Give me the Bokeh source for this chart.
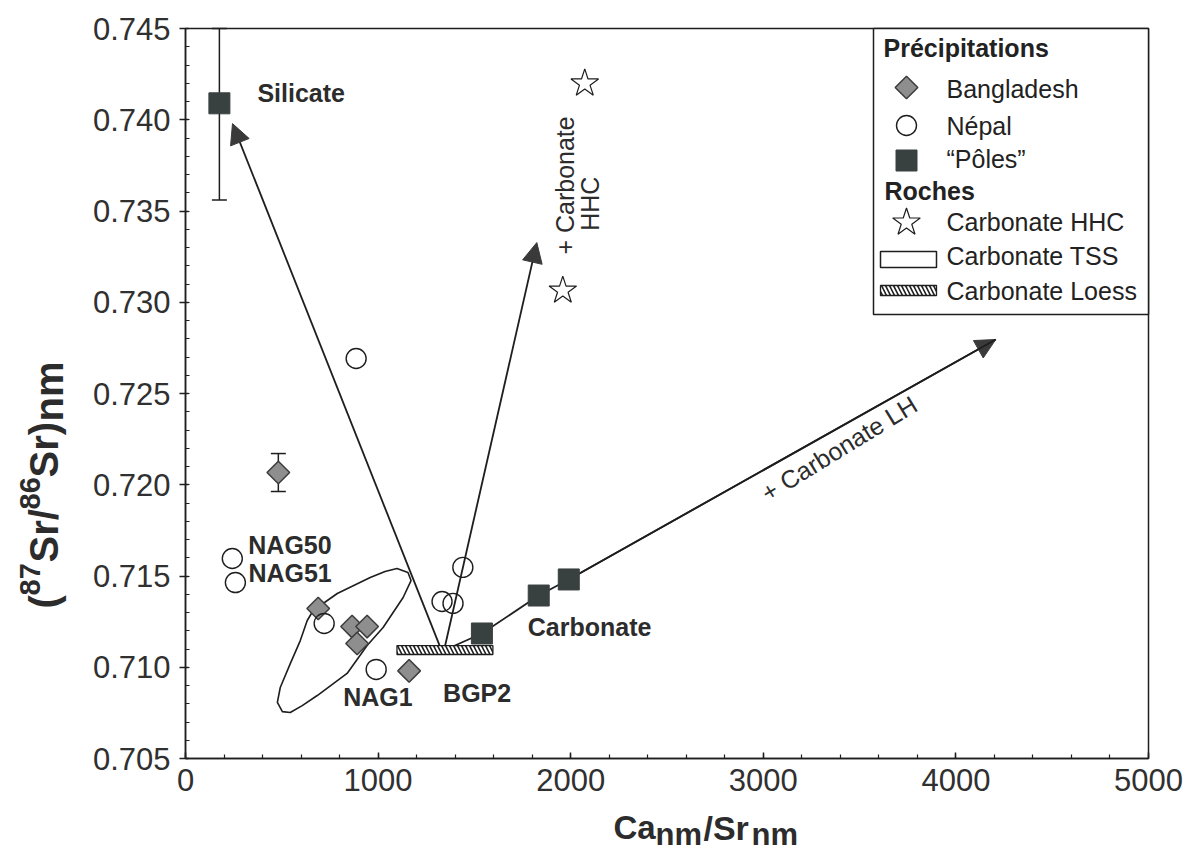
import numpy as np
from bokeh.plotting import figure
from bokeh.models import (Range1d, FixedTicker, PrintfTickFormatter,
                          Arrow, NormalHead, TeeHead, Whisker, ColumnDataSource)
from bokeh.core.properties import value
from bokeh.embed import file_html
from bokeh.resources import INLINE

# ---------------- data ----------------
# Precipitation - Bangladesh (grey diamonds)
bgd_x = [482, 689, 865, 943, 891, 1161]
bgd_y = [0.72067, 0.71322, 0.71223, 0.71223, 0.71130, 0.70980]
# Precipitation - Nepal (open circles)
nep_x = [243, 259, 720, 886, 990, 1332, 1389, 1440]
nep_y = [0.71596, 0.71464, 0.71240, 0.72692, 0.70988, 0.71360, 0.71350, 0.71547]
# End-members "Poles" (filled squares)
pole_x = [176, 1539, 1834, 1990]
pole_y = [0.74090, 0.71185, 0.71393, 0.71481]
# Rocks - Carbonate HHC (stars)
hhc_x = [2073, 1959]
hhc_y = [0.74199, 0.73064]
# Rocks - Carbonate TSS field (outline)
tss_x = [1098, 1155, 1171, 1130, 1026, 943, 839, 684, 606, 544, 503, 477, 492, 544,
         596, 632, 663, 788, 959, 1036]
tss_y = [0.71541, 0.71519, 0.71475, 0.71382, 0.71218, 0.71119, 0.70966, 0.70845, 0.70790,
         0.70752, 0.70757, 0.70807, 0.70889, 0.71020, 0.71146, 0.71256, 0.71311, 0.71404,
         0.71492, 0.71525]
# Rocks - Carbonate Loess (box)
loess_x = [1098, 1596]
loess_y = [0.71070, 0.71119]
# error bars
err_x = [176, 482]
err_lo = [0.7356, 0.71963]
err_hi = [0.7450, 0.72171]
# mixing arrows (to Silicate, to Carbonate HHC)
mix_x0 = [1321, 1347]
mix_y0 = [0.71114, 0.71114]
mix_x1 = [244, 1824]
mix_y1 = [0.73979, 0.73327]
# mixing line towards Carbonate LH
lh_x = [1399, 1539, 1834, 1990, 4207]
lh_y = [0.71119, 0.71185, 0.71393, 0.71481, 0.72796]

# point labels
pt_text = ["Silicate", "NAG50", "NAG51", "NAG1", "BGP2", "Carbonate"]
pt_x = [176, 243, 259, 990, 1161, 1834]
pt_y = [0.74090, 0.71596, 0.71464, 0.70988, 0.70980, 0.71393]

# axes
x_ticks = [0, 1000, 2000, 3000, 4000, 5000]
y_ticks = [0.705, 0.710, 0.715, 0.720, 0.725, 0.730, 0.735, 0.740, 0.745]

# axis titles, as (text, font size, role) pieces
xt_pieces = [("Ca", "33px", "main"), ("nm", "31px", "sub"), ("/Sr", "34px", "main"), ("nm", "31px", "sub")]
yt_pieces = [("(", "40px", "main"), ("87", "29px", "sup"), ("Sr/", "40px", "main"),
             ("86", "29px", "sup"), ("Sr)", "40px", "main"), ("nm", "40px", "sub")]

# ---------------- layout / style ----------------
W, H = 1186, 852
PL, PR, PT, PB = 185, 1148, 28, 758      # data box in page pixels
XMIN, XMAX, YMIN, YMAX = 0, 5000, 0.705, 0.745
INK = "#1e1e1e"
TXT = "#2c2c2c"
FONT = value("Liberation Sans")


def gx(px):
    return XMIN + (px - PL) / (PR - PL) * (XMAX - XMIN)


def gy(py):
    return YMAX - (py - PT) / (PB - PT) * (YMAX - YMIN)


p = figure(width=W, height=H, x_range=Range1d(gx(0), gx(W)), y_range=Range1d(gy(H), gy(0)),
           output_backend="svg", toolbar_location=None, title=None, min_border=0,
           min_border_left=0, min_border_right=0, min_border_top=0, min_border_bottom=0)
p.background_fill_color = "white"
p.border_fill_color = "white"
p.outline_line_color = None
p.xgrid.visible = False
p.ygrid.visible = False

xa, ya = p.xaxis[0], p.yaxis[0]
xa.fixed_location = YMIN
ya.fixed_location = XMIN
xa.bounds = (XMIN, XMAX)
ya.bounds = (YMIN, YMAX)
xa.ticker = FixedTicker(ticks=x_ticks, minor_ticks=list(range(0, 5001, 200)))
ya.ticker = FixedTicker(ticks=y_ticks, minor_ticks=list(np.round(np.arange(0.705, 0.7451, 0.001), 4)))
ya.formatter = PrintfTickFormatter(format="%.3f")
for ax in (xa, ya):
    ax.axis_line_color = INK
    ax.axis_line_width = 1.5
    ax.major_tick_line_color = INK
    ax.major_tick_line_width = 1.5
    ax.minor_tick_line_color = INK
    ax.minor_tick_line_width = 1.2
    ax.major_label_text_font = "Liberation Sans"
    ax.major_label_text_font_size = "31px"
    ax.major_label_text_color = "#303030"
ya.major_tick_out = 6
ya.major_tick_in = 3
ya.minor_tick_in = 4
ya.minor_tick_out = 0
ya.major_label_standoff = 9
xa.major_tick_out = 0
xa.major_tick_in = 6
xa.minor_tick_in = 4
xa.minor_tick_out = 0
xa.major_label_standoff = 10

# plot box
p.quad(left=[XMIN], right=[XMAX], bottom=[YMIN], top=[YMAX], fill_alpha=0,
       line_color=INK, line_width=1.5)

# ---------------- rock fields ----------------
p.patch(tss_x, tss_y, fill_alpha=0, line_color=INK, line_width=1.6)
p.quad(left=[loess_x[0]], right=[loess_x[1]], bottom=[loess_y[0]], top=[loess_y[1]],
       fill_color="white", line_color=INK, line_width=1.3,
       hatch_pattern="left_diagonal_line", hatch_color=INK, hatch_scale=8, hatch_weight=1.6)

# ---------------- mixing lines / arrows ----------------
head = dict(size=20, fill_color="#3a3a3a", line_color="#3a3a3a")
arr_src = ColumnDataSource(dict(x0=mix_x0 + [lh_x[-2]], y0=mix_y0 + [lh_y[-2]],
                                x1=mix_x1 + [lh_x[-1]], y1=mix_y1 + [lh_y[-1]]))
p.line(lh_x, lh_y, line_color=INK, line_width=1.8)
p.add_layout(Arrow(end=NormalHead(**head), x_start="x0", y_start="y0", x_end="x1", y_end="y1",
                   source=arr_src, line_color=INK, line_width=1.8, level="underlay"))

# error bars
err_src = ColumnDataSource(dict(base=err_x, lower=err_lo, upper=err_hi))
p.add_layout(Whisker(base="base", lower="lower", upper="upper", dimension="height", source=err_src,
                     line_color=INK, line_width=1.5, level="underlay",
                     lower_head=TeeHead(size=15, line_color=INK, line_width=1.5),
                     upper_head=TeeHead(size=15, line_color=INK, line_width=1.5)))

# ---------------- points ----------------
BGD = dict(marker="square", angle=np.pi / 4, size=16, fill_color="#8e8e8e",
           line_color="#3c3c3c", line_width=1.5)
NEP = dict(marker="circle", size=20, fill_alpha=0, line_color=INK, line_width=1.4)
POL = dict(marker="square", size=21, fill_color="#394140", line_color="#394140")
HHC = dict(marker="star", size=29, fill_color="white", line_color=INK, line_width=1.2)

p.scatter(bgd_x, bgd_y, **BGD)
p.scatter(nep_x, nep_y, **NEP)
p.scatter(pole_x, pole_y, **POL)
p.scatter(hhc_x, hhc_y, **HHC)

# point labels (pixel offsets from the labelled point)
lab_src = ColumnDataSource(dict(x=pt_x, y=pt_y, t=pt_text,
                                dx=[38, 16, 13, -33, 34, -11], dy=[-10, -13, -10, 28, 22, 31]))
p.text(x="x", y="y", text="t", x_offset="dx", y_offset="dy", source=lab_src,
       text_font=FONT, text_font_style="bold", text_font_size="25px", text_color=TXT,
       text_align="left", text_baseline="middle")

# mixing-line annotations
ann_src = ColumnDataSource(dict(x=[1969, 2098, 3394], y=[0.7364, 0.7354, 0.72199],
                                t=["+ Carbonate", "HHC", "+ Carbonate LH"],
                                a=[np.pi / 2, np.pi / 2, 0.55]))
p.text(x="x", y="y", text="t", angle="a", source=ann_src, text_font=FONT,
       text_font_size="25px", text_color=TXT, text_align="center", text_baseline="middle")

# ---------------- legend (pixel layout anchored to the box's top-right corner) ----------------
CX, CY = PR, PT
p.quad(left=[gx(CX - 275)], right=[gx(CX)], top=[gy(CY)], bottom=[gy(CY + 286)],
       fill_color="white", line_color=INK, line_width=1.5)
MX, TX = CX - 242, CX - 202
p.scatter([gx(MX)], [gy(CY + 59)], **BGD)
p.scatter([gx(MX)], [gy(CY + 97)], **NEP)
p.scatter([gx(MX)], [gy(CY + 132)], **POL)
p.scatter([gx(MX)], [gy(CY + 194)], **HHC)
p.quad(left=[gx(CX - 268)], right=[gx(CX - 212)], top=[gy(CY + 223)], bottom=[gy(CY + 239)],
       fill_color="white", line_color=INK, line_width=1.5)
p.quad(left=[gx(CX - 268)], right=[gx(CX - 212)], top=[gy(CY + 257)], bottom=[gy(CY + 267)],
       fill_color="white", line_color=INK, line_width=1.3,
       hatch_pattern="left_diagonal_line", hatch_color=INK, hatch_scale=8, hatch_weight=1.6)
leg_items = ["Bangladesh", "Népal", "\u201cPôles\u201d", "Carbonate HHC", "Carbonate TSS",
             "Carbonate Loess"]
leg_rows = [60, 97, 130, 193, 227, 262]
p.text(x=[gx(TX)] * len(leg_items), y=[gy(CY + r) for r in leg_rows], text=leg_items,
       text_font=FONT, text_font_size="25px", text_color="#222222",
       text_align="left", text_baseline="middle")
p.text(x=[gx(CX - 265), gx(CX - 264)], y=[gy(CY + 19), gy(CY + 162)],
       text=["Précipitations", "Roches"], text_font=FONT, text_font_style="bold",
       text_font_size="25px", text_color="#222222", text_align="left", text_baseline="middle")

# ---------------- axis titles (pieces with sub/superscripts, page pixel layout) ----------------
xt_left = [613, 655, 703, 751]
xt_mid = {"main": 827, "sub": 834}
p.text(x=[gx(v) for v in xt_left], y=[gy(xt_mid[r]) for _, _, r in xt_pieces],
       text=[t for t, _, _ in xt_pieces], text_font_size=[f for _, f, _ in xt_pieces],
       text_font=FONT, text_font_style="bold", text_color=TXT,
       text_align="left", text_baseline="middle")

yt_start = [608, 595, 562, 509, 477, 421]
yt_mid = {"main": 43, "sup": 29, "sub": 48}
p.text(x=[gx(yt_mid[r]) for _, _, r in yt_pieces], y=[gy(v) for v in yt_start],
       text=[t for t, _, _ in yt_pieces], text_font_size=[f for _, f, _ in yt_pieces],
       angle=np.pi / 2, text_font=FONT, text_font_style="bold", text_color=TXT,
       text_align="left", text_baseline="middle")

open("out.html", "w").write(file_html(p, INLINE))
